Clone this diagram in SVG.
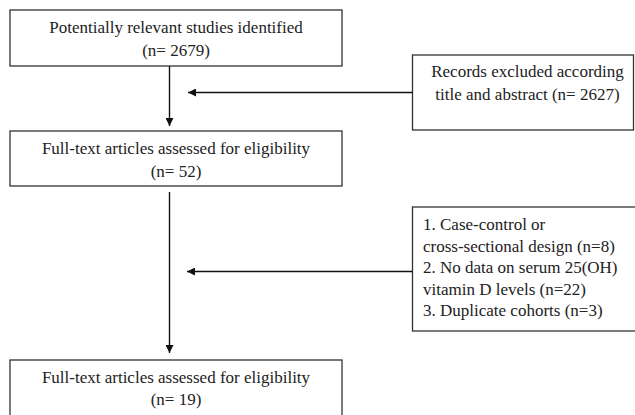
<svg xmlns="http://www.w3.org/2000/svg" width="635" height="415" viewBox="0 0 635 415">
<defs>
<style>
.box{fill:#fff;stroke:#333;stroke-width:1.3}
.t{font-family:"Liberation Serif","Times New Roman",serif;font-size:17px;fill:#222}
.c{text-anchor:middle}
.ln{stroke:#111;stroke-width:1.4;fill:none}
</style>
<marker id="ah" viewBox="0 0 10 10" refX="10" refY="5" markerWidth="8" markerHeight="8" markerUnits="userSpaceOnUse" orient="auto">
<path d="M0,0 L10,5 L0,10 Z" fill="#111"/>
</marker>
</defs>
<rect width="635" height="415" fill="#fff"/>
<g id="identified">
<rect class="box" x="10" y="10" width="332" height="56"/>
<text class="t c" x="176" y="33">Potentially relevant studies identified</text>
<text class="t c" x="176" y="56">(n= 2679)</text>
</g>
<g id="excluded1">
<rect class="box" x="412.5" y="55" width="221" height="75"/>
<text class="t c" x="527.5" y="77">Records excluded according</text>
<text class="t c" x="527.5" y="100">title and abstract (n= 2627)</text>
</g>
<g id="fulltext">
<rect class="box" x="10" y="131" width="332" height="55"/>
<text class="t c" x="176" y="154">Full-text articles assessed for eligibility</text>
<text class="t c" x="176" y="177">(n= 52)</text>
</g>
<g id="excluded2">
<rect class="box" x="412.5" y="207" width="230" height="124"/>
<text class="t" x="423" y="230">1. Case-control or</text>
<text class="t" x="423" y="251.5">cross-sectional design (n=8)</text>
<text class="t" x="423" y="273">2. No data on serum 25(OH)</text>
<text class="t" x="423" y="294.5">vitamin D levels (n=22)</text>
<text class="t" x="423" y="316">3. Duplicate cohorts (n=3)</text>
</g>
<g id="included">
<rect class="box" x="10" y="360" width="332" height="70"/>
<text class="t c" x="176" y="383">Full-text articles assessed for eligibility</text>
<text class="t c" x="176" y="405">(n= 19)</text>
</g>
<g id="connectors">
<line class="ln" x1="169.5" y1="66" x2="169.5" y2="126" marker-end="url(#ah)"/>
<line class="ln" x1="412.5" y1="92.5" x2="188" y2="92.5" marker-end="url(#ah)"/>
<line class="ln" x1="169.5" y1="192" x2="169.5" y2="353" marker-end="url(#ah)"/>
<line class="ln" x1="412.5" y1="271.5" x2="187" y2="271.5" marker-end="url(#ah)"/>
</g>
</svg>
